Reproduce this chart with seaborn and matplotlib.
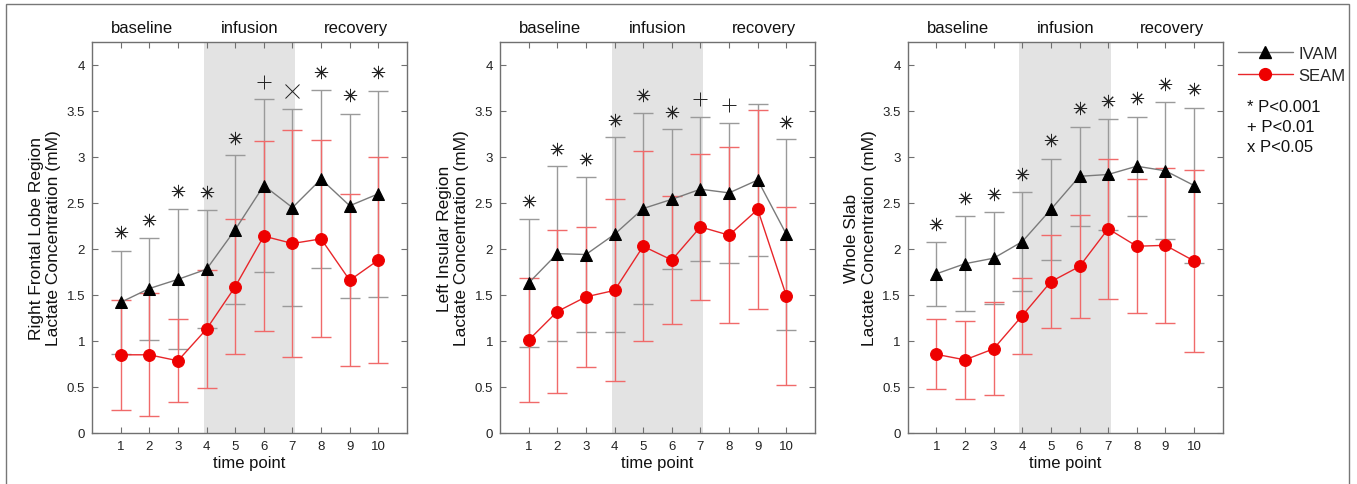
import numpy as np
import pandas as pd
import matplotlib
matplotlib.use("Agg")
import matplotlib.pyplot as plt
from matplotlib.lines import Line2D
from matplotlib.patches import Rectangle
import seaborn as sns

sns.set_theme(style="white")
plt.rcParams['font.family'] = ['Liberation Sans', 'DejaVu Sans']

time_points = [1, 2, 3, 4, 5, 6, 7, 8, 9, 10]
x_tick_labels = ['1', '2', '3', '4', '5', '6', '7', '8', '9', '10']
phase_labels = ['baseline', 'infusion', 'recovery']

ylabels = ['Right Frontal Lobe Region\nLactate Concentration (mM)',
           'Left Insular Region\nLactate Concentration (mM)',
           'Whole Slab\nLactate Concentration (mM)']

# Right frontal lobe
rf_ivam_mean = [1.42, 1.57, 1.67, 1.78, 2.21, 2.69, 2.45, 2.76, 2.47, 2.60]
rf_ivam_sd = [0.56, 0.555, 0.76, 0.64, 0.81, 0.94, 1.07, 0.97, 1.00, 1.12]
rf_seam_mean = [0.85, 0.85, 0.785, 1.13, 1.59, 2.14, 2.06, 2.11, 1.66, 1.88]
rf_seam_sd = [0.595, 0.67, 0.45, 0.645, 0.735, 1.035, 1.23, 1.07, 0.935, 1.115]
rf_sig = ['*', '*', '*', '*', '*', '+', 'x', '*', '*', '*']
rf_sig_y = [2.18, 2.31, 2.63, 2.62, 3.21, 3.82, 3.72, 3.92, 3.67, 3.92]

# Left insular
li_ivam_mean = [1.63, 1.95, 1.94, 2.16, 2.44, 2.54, 2.65, 2.61, 2.75, 2.16]
li_ivam_sd = [0.70, 0.95, 0.845, 1.06, 1.035, 0.76, 0.78, 0.765, 0.83, 1.04]
li_seam_mean = [1.01, 1.32, 1.48, 1.55, 2.03, 1.88, 2.24, 2.15, 2.43, 1.49]
li_seam_sd = [0.67, 0.89, 0.76, 0.99, 1.035, 0.70, 0.79, 0.955, 1.085, 0.965]
li_sig = ['*', '*', '*', '*', '*', '*', '+', '+', '', '*']
li_sig_y = [2.52, 3.09, 2.98, 3.40, 3.67, 3.49, 3.63, 3.56, np.nan, 3.38]

# Whole slab
ws_ivam_mean = [1.73, 1.84, 1.90, 2.08, 2.43, 2.79, 2.81, 2.90, 2.85, 2.69]
ws_ivam_sd = [0.35, 0.515, 0.50, 0.535, 0.545, 0.535, 0.60, 0.54, 0.745, 0.84]
ws_seam_mean = [0.855, 0.795, 0.915, 1.275, 1.645, 1.81, 2.22, 2.03, 2.04, 1.87]
ws_seam_sd = [0.38, 0.42, 0.505, 0.415, 0.505, 0.56, 0.76, 0.73, 0.84, 0.99]
ws_sig = ['*', '*', '*', '*', '*', '*', '*', '*', '*', '*']
ws_sig_y = [2.27, 2.55, 2.60, 2.81, 3.18, 3.53, 3.61, 3.64, 3.79, 3.74]

panels = [
    (rf_ivam_mean, rf_ivam_sd, rf_seam_mean, rf_seam_sd, rf_sig, rf_sig_y),
    (li_ivam_mean, li_ivam_sd, li_seam_mean, li_seam_sd, li_sig, li_sig_y),
    (ws_ivam_mean, ws_ivam_sd, ws_seam_mean, ws_seam_sd, ws_sig, ws_sig_y),
]

W, H = 1357, 485
fig = plt.figure(figsize=(W / 100, H / 100), dpi=100)

lefts = [92, 500, 907.7]
ax_w = 315
ax_bottom = 51
ax_h = 391

sig_markers = {'*': (8, 2, 0), '+': '+', 'x': 'x'}
spine_col = '#707070'

for i, (im, isd, sm, ssd, sig, sigy) in enumerate(panels):
    ax = fig.add_axes([lefts[i] / W, ax_bottom / H, ax_w / W, ax_h / H])
    ax.axvspan(3.9, 7.1, color='#e3e3e3', lw=0, zorder=0)

    ax.errorbar(time_points, im, yerr=isd, fmt='none', ecolor='#9a9a9a',
                elinewidth=1.0, capsize=7, capthick=1.0, zorder=2)
    ax.errorbar(time_points, sm, yerr=ssd, fmt='none', ecolor='#f06a6a',
                elinewidth=1.0, capsize=7, capthick=1.0, zorder=2)

    sns.lineplot(x=time_points, y=im, ax=ax, color='#7a7a7a', lw=1.0,
                 marker='^', markersize=8.5, markerfacecolor='black',
                 markeredgecolor='black', zorder=4)
    sns.lineplot(x=time_points, y=sm, ax=ax, color='#e8262a', lw=1.0,
                 marker='o', markersize=8.5, markerfacecolor='#ee0000',
                 markeredgecolor='#ee0000', zorder=3)

    for t, s, yv in zip(time_points, sig, sigy):
        if s:
            ax.plot([t], [yv], marker=sig_markers[s], markersize=9.5,
                    color='#222222', markeredgewidth=0.7, ls='none', zorder=5)

    ax.set_xlim(0, 11)
    ax.set_ylim(0, 4.25)
    ax.set_xticks(time_points)
    ax.set_xticklabels(x_tick_labels)
    ax.set_yticks([0, 0.5, 1, 1.5, 2, 2.5, 3, 3.5, 4])
    ax.set_yticklabels(['0', '0.5', '1', '1.5', '2', '2.5', '3', '3.5', '4'])
    ax.tick_params(direction='in', length=4, width=0.8, colors=spine_col,
                   labelcolor='#222222', labelsize=9.5, top=True, right=True,
                   left=True, bottom=True, pad=5)
    for sp in ax.spines.values():
        sp.set_color(spine_col)
        sp.set_linewidth(1.0)
    ax.set_xlabel('time point', fontsize=12, color='#111111', labelpad=2)
    ax.set_ylabel(ylabels[i], fontsize=12.5, color='#111111', labelpad=4,
                  linespacing=1.2)
    ax.grid(False)

    for lab, xp in zip(phase_labels, [1.74, 5.52, 9.23]):
        ax.text(xp, 4.41, lab, ha='center', va='center', fontsize=12,
                color='#111111', clip_on=False)

# Legend
handles = [
    Line2D([0], [0], color='#7a7a7a', lw=1.0, marker='^', markersize=8.5,
           markerfacecolor='black', markeredgecolor='black'),
    Line2D([0], [0], color='#e8262a', lw=1.0, marker='o', markersize=8.5,
           markerfacecolor='#ee0000', markeredgecolor='#ee0000'),
]
fig.legend(handles, ['IVAM', 'SEAM'], loc='upper left',
           bbox_to_anchor=(1231 / W, 1 - 40 / H), frameon=False,
           fontsize=12, handlelength=3.3, handletextpad=0.35,
           labelspacing=0.45, borderaxespad=0)

for k, txt in enumerate(['* P<0.001', '+ P<0.01', 'x P<0.05']):
    fig.text(1247 / W, 1 - (108 + 20 * k) / H, txt, fontsize=12,
             ha='left', va='center', color='#111111')

# Figure frame
fig.patches.append(Rectangle((6 / W, -0.1), (1349 - 6) / W, 1.1 - 5 / H,
                             transform=fig.transFigure, fill=False,
                             edgecolor='#777777', lw=1.0))

fig.savefig('out.png', dpi=100)
